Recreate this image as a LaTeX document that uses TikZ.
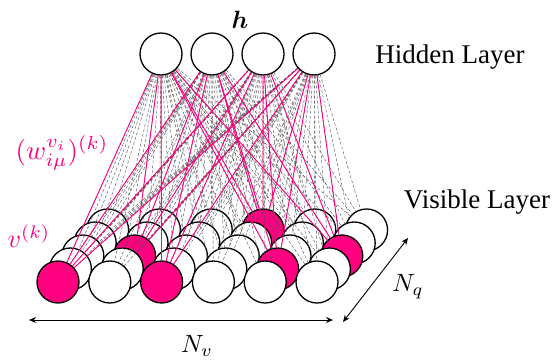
\documentclass[tikz,border=0pt]{standalone}
\usepackage{amsmath}
\usepackage{fontspec}
\setmainfont{Liberation Serif}
\usetikzlibrary{arrows.meta}
\definecolor{pinkc}{RGB}{255,0,128}
\newcommand{\mylabscale}[2]{\scalebox{#1}{#2}}
\begin{document}
\begin{tikzpicture}[x=1pt,y=-1pt,
  unit/.style={circle, draw, line width=1.3pt, minimum size=42pt, inner sep=0pt, fill=white},
  onunit/.style={unit, fill=pinkc},
  dline/.style={densely dashed, black!70, line width=0.4pt},
  pline/.style={pinkc, line width=0.9pt},
  lab/.style={font=\fontsize{27}{32}\selectfont},
  mlab/.style={inner sep=1pt},
  dimarrow/.style={{Stealth[length=7pt,width=6pt]}-{Stealth[length=7pt,width=6pt]}, line width=0.9pt}]
\useasboundingbox (0,0) rectangle (559,362);
% visible layer, back rows first
\foreach \r in {4,3,2,1,0} {
  \foreach \c in {1,...,6} {
    \pgfmathsetmacro\xx{58+51.8*(\c-1)+12.4*\r}
    \pgfmathsetmacro\yy{282-13*\r}
    \pgfmathtruncatemacro\isp{((\c==1)&&(\r==0))||((\c==3)&&(\r==0))||((\c==5)&&(\r==1))||((\c==6)&&(\r==2))||((\c==2)&&(\r==2))||((\c==4)&&(\r==4))}
    \ifnum\isp=1
      \node[onunit] (v\c\r) at (\xx,\yy) {};
    \else
      \node[unit] (v\c\r) at (\xx,\yy) {};
    \fi
  }
}
% hidden layer
\foreach \i/\x in {1/161,2/212,3/263,4/314} {
  \node[unit] (h\i) at (\x,54) {};
}
% connections
\foreach \h in {1,...,4} {
  \foreach \r in {0,...,4} {
    \foreach \c in {1,...,6} {
      \draw[dline] (h\h) -- (v\c\r);
    }
  }
}
\foreach \h in {1,...,4} {
  \foreach \p in {10,30,51,62,22,44} {
    \draw[pline] (h\h) -- (v\p);
  }
}
% labels
\node[mlab] (hl) at (240,20) {\mylabscale{2.5}{$\boldsymbol{h}$}};
\node[lab] (hid) at (450,57) {Hidden Layer};
\node[lab] (vis) at (477,202) {Visible Layer};
\node[mlab, text=pinkc] (wl) at (62,153) {\mylabscale{2.7}{$(w_{i\mu}^{v_i})^{(k)}$}};
\node[mlab, text=pinkc] (vl) at (29,236) {\mylabscale{2.6}{$v^{(k)}$}};
% dimension arrows
\coordinate (a1) at (29,320);
\coordinate (a2) at (333,320);
\draw[dimarrow] (a1) -- (a2);
\node[mlab] (nv) at (197,346) {\mylabscale{2.5}{$N_v$}};
\coordinate (b1) at (343,322);
\coordinate (b2) at (408,238);
\draw[dimarrow] (b1) -- (b2);
\node[mlab] (nq) at (408,287) {\mylabscale{2.5}{$N_q$}};
\end{tikzpicture}
\end{document}
